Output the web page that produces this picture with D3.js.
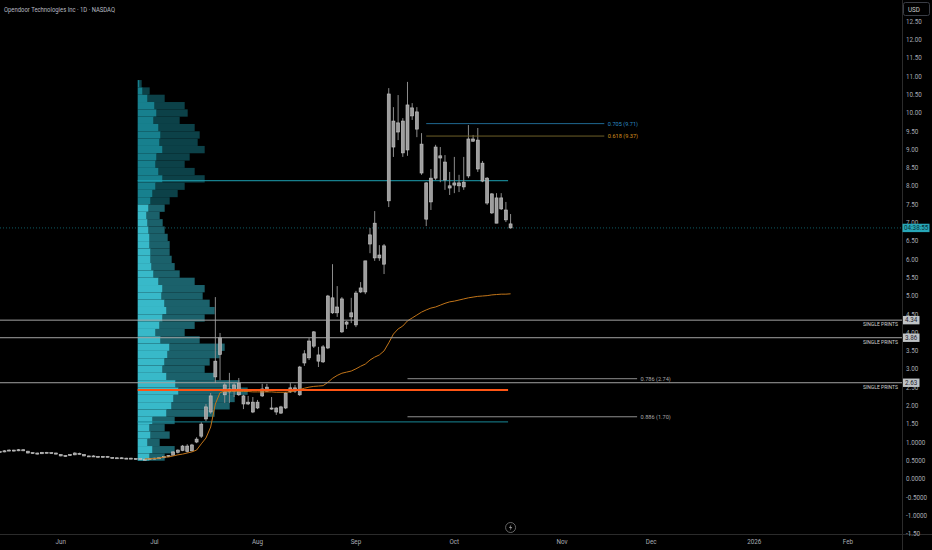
<!DOCTYPE html>
<html><head><meta charset="utf-8">
<script src="https://cdn.jsdelivr.net/npm/d3@7"></script>
<style>html,body{margin:0;padding:0;background:#000;overflow:hidden}svg{display:block}</style>
</head><body><svg id="c" width="932" height="550"></svg>
<script>
// ---------- DATA ----------
const title = "Opendoor Technologies Inc · 1D · NASDAQ";
const dates = [
"2025-05-13","2025-05-14","2025-05-15","2025-05-16","2025-05-19","2025-05-20","2025-05-21","2025-05-22","2025-05-23","2025-05-27","2025-05-28","2025-05-29","2025-05-30",
"2025-06-02","2025-06-03","2025-06-04","2025-06-05","2025-06-06","2025-06-09","2025-06-10","2025-06-11","2025-06-12","2025-06-13","2025-06-16","2025-06-17","2025-06-18","2025-06-20","2025-06-23","2025-06-24","2025-06-25","2025-06-26","2025-06-27","2025-06-30",
"2025-07-01","2025-07-02","2025-07-03","2025-07-07","2025-07-08","2025-07-09","2025-07-10","2025-07-11","2025-07-14","2025-07-15","2025-07-16","2025-07-17","2025-07-18","2025-07-21","2025-07-22","2025-07-23","2025-07-24","2025-07-25","2025-07-28","2025-07-29","2025-07-30","2025-07-31",
"2025-08-01","2025-08-04","2025-08-05","2025-08-06","2025-08-07","2025-08-08","2025-08-11","2025-08-12","2025-08-13","2025-08-14","2025-08-15","2025-08-18","2025-08-19","2025-08-20","2025-08-21","2025-08-22","2025-08-25","2025-08-26","2025-08-27","2025-08-28","2025-08-29",
"2025-09-02","2025-09-03","2025-09-04","2025-09-05","2025-09-08","2025-09-09","2025-09-10","2025-09-11","2025-09-12","2025-09-15","2025-09-16","2025-09-17","2025-09-18","2025-09-19","2025-09-22","2025-09-23","2025-09-24","2025-09-25","2025-09-26","2025-09-29","2025-09-30",
"2025-10-01","2025-10-02","2025-10-03","2025-10-06","2025-10-07","2025-10-08","2025-10-09","2025-10-10","2025-10-13","2025-10-14","2025-10-15","2025-10-16","2025-10-17"];
const open = [
.75,.74,.77,.79,.77,.80,.76,.71,.71,.69,.73,.71,.71,
.67,.63,.64,.66,.70,.67,.63,.61,.62,.60,.62,.59,.57,.58,.56,.57,.55,.56,.54,.53,
.56,.57,.58,.61,.65,.73,.78,.90,.77,1.01,1.17,1.64,1.83,2.79,3.40,2.57,2.38,2.40,2.62,2.27,2.05,2.10,
1.94,2.27,2.51,1.94,1.94,1.80,1.94,2.38,2.49,2.30,3.17,3.31,3.63,3.39,3.20,3.58,4.95,4.54,4.92,4.23,4.43,
4.21,5.11,5.11,6.42,6.99,6.04,6.37,7.60,9.78,9.48,9.78,8.99,10.14,10.03,9.15,8.09,7.57,8.22,8.83,8.66,8.01,
8.03,8.09,7.98,8.28,9.29,9.26,8.63,8.22,7.79,6.99,7.68,7.35,6.97];
const high = [
.77,.79,.81,.80,.82,.81,.77,.73,.72,.74,.74,.73,.72,
.68,.65,.68,.73,.72,.68,.64,.65,.63,.63,.63,.60,.59,.59,.58,.58,.57,.57,.56,.57,
.58,.59,.62,.65,.76,.81,.93,.95,.96,1.14,1.55,2.05,2.35,4.97,3.99,2.62,2.90,2.62,2.76,2.30,2.27,2.24,
2.16,2.60,2.60,2.24,1.96,2.00,2.38,2.62,2.57,3.09,3.52,3.85,4.04,3.61,3.66,5.03,5.87,5.27,4.97,4.32,4.95,
5.14,5.38,5.96,6.86,7.32,6.39,6.42,10.68,10.16,10.49,9.86,10.85,10.27,10.16,9.45,8.11,8.47,9.13,9.07,8.85,8.39,
8.80,8.31,8.80,9.67,9.40,9.59,8.69,8.25,7.81,7.81,7.81,7.57,7.24];
const low = [
.72,.73,.76,.75,.76,.76,.70,.69,.67,.68,.70,.70,.67,
.62,.61,.63,.65,.67,.62,.60,.60,.59,.59,.59,.56,.56,.55,.55,.54,.53,.53,.51,.52,
.54,.55,.57,.60,.64,.70,.76,.72,.75,.98,1.12,1.58,1.78,2.62,2.70,2.08,2.08,2.24,2.27,1.91,2.02,1.80,
1.91,2.24,2.38,1.89,1.75,1.78,1.91,2.35,2.35,2.27,3.09,3.25,3.58,3.06,3.17,3.55,4.51,4.43,3.99,4.10,4.26,
4.15,5.08,5.05,6.17,5.96,5.96,5.60,7.43,8.80,9.26,8.80,8.83,9.81,9.34,8.31,6.91,7.35,8.17,8.11,7.90,7.76,
7.81,7.84,7.90,8.22,9.21,8.39,8.11,7.49,7.24,6.99,7.35,7.02,6.84];
const close = [
.74,.77,.79,.77,.80,.77,.71,.72,.68,.73,.71,.72,.68,
.63,.64,.67,.71,.68,.63,.61,.63,.60,.62,.60,.57,.58,.56,.57,.55,.56,.54,.53,.56,
.57,.58,.61,.64,.74,.79,.90,.75,.93,1.09,1.50,1.97,2.27,3.22,3.86,2.30,2.46,2.57,2.30,2.05,2.10,1.83,
2.10,2.46,2.40,1.91,1.83,1.97,2.35,2.49,2.40,3.06,3.42,3.77,4.02,3.22,3.61,5.00,4.54,4.70,4.02,4.29,4.54,
5.08,5.22,5.96,6.67,6.04,6.12,5.87,10.52,9.07,9.73,8.91,10.22,9.92,9.56,8.36,7.10,8.22,9.07,8.77,8.17,7.95,
8.09,8.01,8.11,9.29,9.23,8.47,8.14,7.54,7.27,7.68,7.38,7.08,6.86];

// anchored VWAP from the June low
const vwapStart = "2025-06-27";
const vwap = [
.55,.55,.56,.57,.60,.60,.63,.66,.68,.71,.74,.79,.96,1.12,1.42,2.05,2.36,2.40,2.40,2.40,2.40,2.39,2.39,2.38,2.38,2.38,2.38,2.38,2.37,2.37,2.37,2.38,2.41,2.45,2.48,2.51,2.53,2.54,2.55,
2.64,2.75,2.83,2.89,2.92,2.95,3.01,3.08,3.14,3.25,3.33,3.39,3.50,3.72,3.96,4.10,4.18,4.32,4.40,4.48,4.56,4.62,4.67,4.70,4.75,4.80,4.84,4.86,4.89,4.92,4.95,4.97,4.99,5.00,5.01,5.03,5.04,5.05,5.05,5.06];

// fixed range volume profile (row low price, up volume, down volume)
const profileLevels = [10.7,10.5,10.3,10.1,9.9,9.7,9.5,9.3,9.1,8.9,8.7,8.5,8.3,8.1,7.9,7.7,7.5,7.3,7.1,6.9,6.7,6.5,6.3,6.1,5.9,5.7,5.5,5.3,5.1,4.9,4.7,4.5,4.3,4.1,3.9,3.7,3.5,3.3,3.1,2.9,2.7,2.5,2.3,2.1,1.9,1.7,1.5,1.3,1.1,0.9,0.7,0.5];
const profileUp   = [2,5,10,17,19,16,21,23,22,25,19,18,21,25,18,15,13,11,9,10,11,12,12,13,13,14,16,21,25,24,27,29,25,22,18,23,32,30,27,25,29,38,41,36,34,29,15,12,13,10,15,12];
const profileDown = [2,7,17,30,31,26,36,39,38,42,33,29,36,42,29,25,19,16,13,15,16,18,20,19,21,23,26,36,42,41,45,48,42,35,29,39,55,52,45,42,48,64,69,61,58,48,22,15,19,12,22,15];
const profileStart = "2025-06-25";
const valueAreaHigh = 8.15, valueAreaLow = 1.56, pointOfControl = 2.43;

const singlePrints = [4.34, 3.86, 2.63];
const fibRatios = ["0.705","0.618","0.786","0.886"];
const fibPrices = [9.71, 9.37, 2.74, 1.70];

const priceTicks = [12.5,12,11.5,11,10.5,10,9.5,9,8.5,8,7.5,7,6.5,6,5.5,5,4.5,4,3.5,3,2.5,2,1.5,1,0.5,0,-0.5,-1,-1.5];
const priceTickLabels = ["12.50","12.00","11.50","11.00","10.50","10.00","9.50","9.00","8.50","8.00","7.50","7.00","6.50","6.00","5.50","5.00","4.50","4.00","3.50","3.00","2.50","2.00","1.50","1.0000","0.5000","0.0000","-0.5000","-1.0000","-1.50"];
const timeTickDates = ["2025-06-02","2025-07-01","2025-08-01","2025-09-02","2025-10-01","2025-11-03","2025-12-01","2026-01-02","2026-02-02"];
const timeTickLabels = ["Jun","Jul","Aug","Sep","Oct","Nov","Dec","2026","Feb"];
const holidays = ["2025-05-26","2025-06-19","2025-07-04","2025-09-01","2025-11-27","2025-12-25","2026-01-01","2026-01-19"];
const countdown = "04:38:55";

// ---------- HELPERS ----------
const hol = new Set(holidays);
function isSession(d){const w=d.getUTCDay();return w!==0&&w!==6&&!hol.has(d.toISOString().slice(0,10));}
function sessionIndex(ds){
  const base=new Date("2025-06-02T00:00:00Z"), t=new Date(ds+"T00:00:00Z");
  let n=0, d=new Date(base);
  if(t>=base){while(d<t){if(isSession(d))n++;d.setUTCDate(d.getUTCDate()+1);}}
  else{while(d>t){d.setUTCDate(d.getUTCDate()-1);if(isSession(d))n--;}}
  return n;
}

// ---------- LAYOUT ----------
const W=932,H=550, plotR=902, plotB=534;
const FONT="Roboto, 'DejaVu Sans', sans-serif";
const svg=d3.select("#c");
svg.append("rect").attr("width",W).attr("height",H).attr("fill","#000");

const x=d3.scaleLinear().domain([0,sessionIndex("2026-02-02")]).range([60.7,848]);
const y=d3.scaleLinear().domain([-1.5,12.5]).range([533.9,21.5]);

const defs=svg.append("defs");
defs.append("clipPath").attr("id","plot").append("rect").attr("x",0).attr("y",0).attr("width",plotR).attr("height",plotB);
const g=svg.append("g").attr("clip-path","url(#plot)");

const bars=dates.map((d,k)=>({date:d,i:sessionIndex(d),o:open[k],h:high[k],l:low[k],c:close[k]}));
const lastBar=bars[bars.length-1];

// current price line
g.append("line").attr("x1",0).attr("x2",plotR).attr("y1",y(lastBar.c)).attr("y2",y(lastBar.c))
 .attr("stroke","#0f5a64").attr("stroke-width",1).attr("stroke-dasharray","1,2");

// volume profile
const px0=x(sessionIndex(profileStart))+2;
const totals=profileUp.map((u,k)=>u+profileDown[k]);
const wv=d3.scaleLinear().domain([0,d3.max(totals)]).range([0,110]);
const step=profileLevels[0]-profileLevels[1];
const prof=g.append("g");
profileLevels.forEach((lv,k)=>{
  const va = lv < 7.4;
  const y1=y(lv+step), y0=y(lv);
  prof.append("rect").attr("x",px0).attr("y",y1).attr("width",wv(profileUp[k])).attr("height",y0-y1)
    .attr("fill",va?"#38b9c9":"#17808e");
  prof.append("rect").attr("x",px0+wv(profileUp[k])).attr("y",y1).attr("width",wv(profileDown[k])).attr("height",y0-y1)
    .attr("fill",va?"#1b616b":"#0c4148");
});

// value area lines
const lineEnd=x(lastBar.i)-2.5;
g.append("line").attr("x1",px0).attr("x2",lineEnd).attr("y1",y(valueAreaHigh)).attr("y2",y(valueAreaHigh)).attr("stroke","#1ea0b1").attr("stroke-width",1);
g.append("line").attr("x1",px0).attr("x2",lineEnd).attr("y1",y(valueAreaLow)).attr("y2",y(valueAreaLow)).attr("stroke","#178896").attr("stroke-width",1);

// candles
const cg=g.append("g");
cg.selectAll("line.w").data(bars).join("line").attr("class","w")
  .attr("x1",d=>x(d.i)).attr("x2",d=>x(d.i)).attr("y1",d=>y(d.h)).attr("y2",d=>y(d.l))
  .attr("stroke","#8c8c8c").attr("stroke-width",1);
cg.selectAll("rect.b").data(bars).join("rect").attr("class","b")
  .attr("x",d=>x(d.i)-1.5).attr("width",3)
  .attr("y",d=>y(Math.max(d.o,d.c))).attr("height",d=>Math.max(1,Math.abs(y(d.o)-y(d.c))))
  .attr("fill","#9d9d9d").attr("stroke","#c6c6c6").attr("stroke-width",0.6);

// anchored vwap
const vs=dates.indexOf(vwapStart);
const vpts=vwap.map((v,k)=>[x(bars[vs+k].i),y(v)]);
g.append("path").attr("d",d3.line()(vpts)).attr("fill","none").attr("stroke","#c27519").attr("stroke-width",1);

// POC line
g.append("line").attr("x1",px0).attr("x2",lineEnd).attr("y1",y(pointOfControl)).attr("y2",y(pointOfControl)).attr("stroke","#ff5514").attr("stroke-width",2);

// single prints
singlePrints.forEach(p=>{
  g.append("line").attr("x1",0).attr("x2",plotR).attr("y1",y(p)).attr("y2",y(p)).attr("stroke","#a3a3a3").attr("stroke-width",1);
  g.append("text").attr("x",898).attr("y",y(p)+4.5).attr("dy","0.35em").attr("text-anchor","end")
   .attr("font-family",FONT).attr("font-size",5).attr("fill","#d0d0d0").text("SINGLE PRINTS");
});

// fib levels
const fibColors=["#1f6890","#6e5f28","#8f8f8f","#8f8f8f"];
const fibText=["#2c8cc2","#d4901f","#a8a8a8","#a8a8a8"];
const fibFrom=[78,78,74,74], fibTo=[116,116,123,123];
fibPrices.forEach((p,k)=>{
  g.append("line").attr("x1",x(fibFrom[k])).attr("x2",x(fibTo[k])).attr("y1",y(p)).attr("y2",y(p)).attr("stroke",fibColors[k]).attr("stroke-width",1);
  g.append("text").attr("x",x(fibTo[k])+3.5).attr("y",y(p)).attr("dy","0.35em").attr("font-family",FONT).attr("font-size",5.6)
   .attr("fill",fibText[k]).text(`${fibRatios[k]} (${p.toFixed(2)})`);
});

// event icon
const ev=svg.append("g").attr("transform",`translate(${x(lastBar.i)},527.5)`);
ev.append("circle").attr("r",5).attr("fill","#000").attr("stroke","#7d7d7d").attr("stroke-width",0.8);
ev.append("path").attr("d","M0.8,-3.2 L-1.6,0.4 L0,0.4 L-0.8,3.2 L1.6,-0.4 L0,-0.4 Z").attr("fill","#9a9a9a");

// axes borders
svg.append("line").attr("x1",plotR+0.5).attr("x2",plotR+0.5).attr("y1",0).attr("y2",H).attr("stroke","#2b2b2b");
svg.append("line").attr("x1",0).attr("x2",W).attr("y1",plotB+0.5).attr("y2",plotB+0.5).attr("stroke","#2b2b2b");

// price axis labels
svg.append("g").selectAll("text").data(priceTicks).join("text")
  .attr("x",906).attr("y",d=>y(d)).attr("dy","0.35em").attr("font-family",FONT).attr("font-size",6.3)
  .attr("fill","#a9acb3").text((d,k)=>priceTickLabels[k]);

// USD box
svg.append("rect").attr("x",903.5).attr("y",2.5).attr("width",26).attr("height",13).attr("rx",2).attr("fill","#000").attr("stroke","#3a3d45");
svg.append("text").attr("x",908).attr("y",9.3).attr("dy","0.35em").attr("font-family",FONT).attr("font-size",6.3).attr("fill","#c8c8c8").text("USD");

// single print price boxes
singlePrints.forEach(p=>{
  svg.append("rect").attr("x",903).attr("y",y(p)-4.2).attr("width",16.5).attr("height",8.4).attr("fill","#bfc3c6");
  svg.append("text").attr("x",905).attr("y",y(p)).attr("dy","0.35em").attr("font-family",FONT).attr("font-size",6.3).attr("fill","#1e222d").text(p.toFixed(2));
});
// countdown box
svg.append("rect").attr("x",902.5).attr("y",y(lastBar.c)-4.2).attr("width",27).attr("height",8.4).attr("fill","#27a7b8");
svg.append("text").attr("x",904).attr("y",y(lastBar.c)).attr("dy","0.35em").attr("font-family",FONT).attr("font-size",6.3).attr("fill","#0a3036").text(countdown);

// time axis
svg.append("g").selectAll("text").data(timeTickDates).join("text")
  .attr("x",d=>x(sessionIndex(d))).attr("y",542).attr("dy","0.35em").attr("text-anchor","middle")
  .attr("font-family",FONT).attr("font-size",6.3).attr("fill","#a9acb3").text((d,k)=>timeTickLabels[k]);

// title
svg.append("text").attr("x",4).attr("y",10).attr("dy","0.35em").attr("font-family",FONT).attr("font-size",6.6)
  .attr("textLength",111).attr("lengthAdjust","spacingAndGlyphs").attr("fill","#b8bbc2").text(title);
</script></body></html>
